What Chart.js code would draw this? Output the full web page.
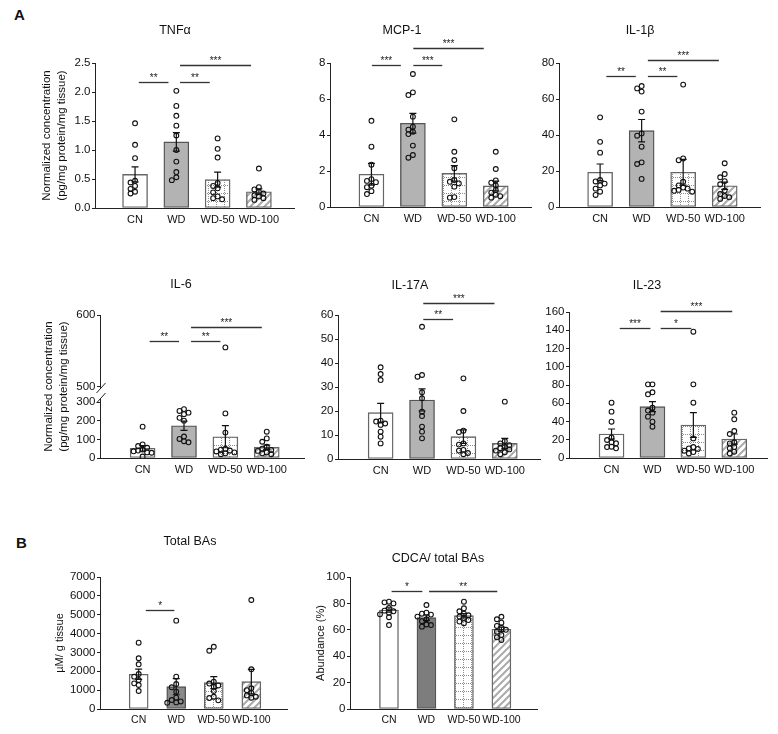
<!DOCTYPE html>
<html>
<head>
<meta charset="utf-8">
<script src="https://cdn.jsdelivr.net/npm/chart.js@4.4.0/dist/chart.umd.min.js"></script>
<style>
body { margin: 0; background: #fff; width: 778px; height: 734px; position: relative; overflow: hidden; font-family: 'Liberation Sans', Arial, sans-serif; color: #111; }
canvas { position: absolute; }
.t { position: absolute; font-size: 12.5px; transform: translate(-50%, -50%); white-space: nowrap; }
.p { position: absolute; font-weight: bold; font-size: 15px; }
</style>
</head>
<body>
<div class="p" style="left:14px;top:6px">A</div>
<div class="p" style="left:16px;top:534px">B</div>
<script>
const groups = ['CN', 'WD', 'WD-50', 'WD-100']

// TNFα
const tnfMean = [0.58, 1.14, 0.49, 0.28]
const tnfSem = [0.13, 0.16, 0.13, 0.05]
const tnfPoints = [
    [1.46, 1.09, 0.86, 0.47, 0.44, 0.38, 0.33, 0.28, 0.25],
    [2.02, 1.76, 1.59, 1.42, 1.25, 1.0, 0.80, 0.62, 0.53, 0.48],
    [1.20, 1.02, 0.87, 0.43, 0.38, 0.34, 0.27, 0.20, 0.17, 0.15],
    [0.68, 0.36, 0.32, 0.28, 0.25, 0.22, 0.20, 0.17, 0.14]
]
const tnfSig = [[0, 1, 2.18, '**'], [1, 2, 2.18, '**'], [1, 3, 2.47, '***']]

// MCP-1
const mcpMean = [1.82, 4.65, 1.87, 1.17]
const mcpSem = [0.6, 0.55, 0.43, 0.27]
const mcpPoints = [
    [4.79, 3.35, 2.35, 1.55, 1.45, 1.38, 1.18, 1.1, 0.88, 0.72],
    [7.39, 6.37, 6.22, 5.02, 4.46, 4.3, 4.18, 4.05, 3.41, 2.89, 2.74],
    [4.87, 3.07, 2.61, 2.15, 1.5, 1.4, 1.31, 1.13, 0.55, 0.52],
    [3.07, 2.11, 1.48, 1.35, 1.2, 0.95, 0.8, 0.68, 0.6, 0.52]
]
const mcpSig = [[0, 1, 7.89, '***'], [1, 2, 7.89, '***'], [1, 3, 8.85, '***']]

// IL-1β
const il1Mean = [19.3, 42.4, 19.3, 11.8]
const il1Sem = [4.6, 6.2, 7.2, 2.0]
const il1Points = [
    [49.8, 36.2, 30.2, 15, 14.2, 13, 12, 10.2, 8.5, 6.7],
    [67.2, 65.9, 64.1, 53, 40.9, 39.6, 33.5, 24.8, 23.9, 15.6],
    [68, 27, 26, 14, 12, 10.8, 10.2, 9.5, 9, 8.5],
    [24.3, 18.3, 16.5, 14.4, 12.6, 9.1, 7.2, 6.1, 5.4, 4.5]
]
const il1Sig = [[0, 1, 72.8, '**'], [1, 2, 72.8, '**'], [1, 3, 81.5, '***']]

// IL-6 (broken axis)
const il6Mean = [52, 173, 114, 57]
const il6Sem = [15, 25, 59, 12]
const il6Points = [
    [168, 73, 64, 55, 45, 40, 36, 30, 28, 8],
    [262, 252, 243, 235, 215, 200, 115, 102, 90, 84],
    [555, 239, 136, 50, 45, 40, 35, 30, 25, 20],
    [141, 105, 87, 60, 50, 43, 38, 30, 25, 20]
]
const il6Sig = [[0, 1, 564, '**'], [1, 2, 564, '**'], [1, 3, 584, '***']]
const il6Ticks = [0, 100, 200, 300, 500, 600]

// IL-17A
const il17Mean = [19.3, 24.6, 9.3, 6.5]
const il17Sem = [3.9, 4.6, 2.8, 2.1]
const il17Points = [
    [38.2, 35.4, 32.9, 16, 15.6, 14.8, 14.2, 11.4, 9.3, 6.5],
    [55.1, 35, 34.3, 27.8, 25.3, 19.7, 17.9, 13.5, 11.4, 8.6],
    [33.6, 20, 11.8, 11.2, 6.5, 6, 3.8, 3.5, 2.5, 2],
    [23.9, 7.5, 6.5, 5.8, 5, 4.5, 4, 3.5, 2.8, 2]
]
const il17Sig = [[1, 2, 58.2, '**'], [1, 3, 65.1, '***']]

// IL-23
const il23Mean = [26.3, 56.3, 36.2, 20.8]
const il23Sem = [5.5, 5.5, 13.5, 5.5]
const il23Points = [
    [60.6, 50.8, 39.8, 22.6, 19.7, 17.2, 16.1, 12.4, 12, 10.6],
    [80.7, 80.7, 72, 69.8, 55.1, 52, 49.7, 45.3, 39.8, 34.3],
    [138.4, 80.7, 60.6, 21.5, 12, 10.6, 10, 8, 6.5, 5],
    [49.7, 42.4, 29.6, 26.3, 17.2, 16, 12, 10.6, 6.9, 5]
]
const il23Sig = [[0, 1, 142, '***'], [1, 2, 142, '*'], [1, 3, 161, '***']]

// Total BAs
const baMean = [1840, 1185, 1397, 1450]
const baSem = [270, 430, 320, 650]
const baPoints = [
    [3515, 2690, 2370, 1856, 1715, 1538, 1361, 1273, 955],
    [4684, 1715, 1326, 1150, 919, 601, 477, 400, 350, 330],
    [3300, 3090, 1450, 1350, 1250, 1180, 950, 650, 580, 460],
    [5780, 2105, 1100, 1000, 850, 720, 650, 600]
]
const baSig = [[0, 1, 5250, '*']]

// CDCA / total BAs
const cdcaMean = [75, 69.2, 70.7, 60.4]
const cdcaSem = [1.7, 2.0, 1.6, 1.7]
const cdcaPoints = [
    [81.3, 80.8, 80, 76.5, 74.5, 74, 73, 71.7, 69.5, 63.6],
    [78.8, 73, 72.2, 71.5, 70, 68, 66.5, 64, 63.6, 62.4],
    [81.3, 76.3, 74, 72.2, 71, 70, 69, 67.4, 66.2, 65],
    [69.9, 68, 65.4, 62.9, 61.5, 60, 58.6, 56.1, 54.3, 52.3]
]
const cdcaSig = [[0, 1, 89.6, '*'], [1, 3, 89.6, '**']]

const normTitle = ['Normalized concentration', '(pg/mg protein/mg tissue)']

const panels = [
    { mean: tnfMean, sem: tnfSem, pts: tnfPoints, sig: tnfSig, title: 'TNFα', tx: 175, ty: 30,
      axisX: 95, top: 63, bottom: 208, ymax: 2.5, step: 0.5, dec: 1, unit: 41.3, xMin: -0.97, xMax: 3.85,
      bar: 25, wd: '#b3b3b3', yTitle: normTitle, yPad: 34.5, inset: [0.09, 0.19] },
    { mean: mcpMean, sem: mcpSem, pts: mcpPoints, sig: mcpSig, title: 'MCP-1', tx: 402, ty: 30,
      axisX: 330, top: 63, bottom: 207, ymax: 8, step: 2, dec: 0, unit: 41.5, xMin: -1.0, xMax: 3.85,
      bar: 25, wd: '#b3b3b3', inset: [0.01, 0.29] },
    { mean: il1Mean, sem: il1Sem, pts: il1Points, sig: il1Sig, title: 'IL-1β', tx: 640, ty: 30,
      axisX: 559, top: 63, bottom: 207, ymax: 80, step: 20, dec: 0, unit: 41.5, xMin: -0.99, xMax: 3.85,
      bar: 25, wd: '#b3b3b3', inset: [0.15, 0.14] },
    { mean: il6Mean, sem: il6Sem, pts: il6Points, sig: il6Sig, title: 'IL-6', tx: 181, ty: 284,
      axisX: 100, top: 315, bottom: 458, ymax: 600, brk: [300, 500, 80.4, 3.857], ticks: il6Ticks,
      unit: 41.3, xMin: -1.03, xMax: 3.9, bar: 25, wd: '#b3b3b3', yTitle: normTitle, yPad: 31.5, inset: [0.17, 0.12] },
    { mean: il17Mean, sem: il17Sem, pts: il17Points, sig: il17Sig, title: 'IL-17A', tx: 410, ty: 285,
      axisX: 338, top: 315, bottom: 459, ymax: 60, step: 10, dec: 0, unit: 41.3, xMin: -1.03, xMax: 3.85,
      bar: 25, wd: '#b3b3b3', inset: [0.03, 0.25] },
    { mean: il23Mean, sem: il23Sem, pts: il23Points, sig: il23Sig, title: 'IL-23', tx: 647, ty: 285,
      axisX: 569, top: 312, bottom: 458, ymax: 160, step: 20, dec: 0, unit: 41, xMin: -1.04, xMax: 3.8,
      bar: 25, wd: '#b3b3b3', inset: [0.2, 0.05] },
    { mean: baMean, sem: baSem, pts: baPoints, sig: baSig, title: 'Total BAs', tx: 190, ty: 541,
      axisX: 100, top: 577, bottom: 709, ymax: 7000, step: 1000, dec: 0, unit: 37.5, xMin: -1.03, xMax: 3.95,
      bar: 19, wd: '#8a8a8a', yTitle: 'µM/ g tissue', yPad: 42.9, inset: [0.19, 0.05], xFont: 10.5 },
    { mean: cdcaMean, sem: cdcaSem, pts: cdcaPoints, sig: cdcaSig, title: 'CDCA/ total BAs', tx: 438, ty: 558,
      axisX: 350, top: 577, bottom: 709, ymax: 100, step: 20, dec: 0, unit: 37.5, xMin: -1.04, xMax: 3.95,
      bar: 19, wd: '#7d7d7d', yTitle: 'Abundance (%)', yPad: 53.9, inset: [0.07, 0.11], xFont: 10.5 }
]

Chart.defaults.font.family = "'Liberation Sans', Arial, sans-serif"
Chart.defaults.color = '#111'

function dotGrid() {
    const c = document.createElement('canvas')
    c.width = 8
    c.height = 8
    const g = c.getContext('2d')
    g.fillStyle = '#fff'
    g.fillRect(0, 0, 8, 8)
    g.fillStyle = '#8c8c8c'
    for (let i = 0; i < 8; i += 2) {
        g.fillRect(i, 7, 1, 1)
        g.fillRect(3, i, 1, 1)
    }
    return g.createPattern(c, 'repeat')
}

function hatch() {
    const s = 7
    const c = document.createElement('canvas')
    c.width = s
    c.height = s
    const g = c.getContext('2d')
    g.fillStyle = '#fff'
    g.fillRect(0, 0, s, s)
    g.strokeStyle = '#ababab'
    g.lineWidth = 2
    g.beginPath()
    g.moveTo(0, s); g.lineTo(s, 0)
    g.moveTo(-1, 1); g.lineTo(1, -1)
    g.moveTo(s - 1, s + 1); g.lineTo(s + 1, s - 1)
    g.stroke()
    return g.createPattern(c, 'repeat')
}

// little beeswarm so overlapping circles sit side by side
function dodge(values, pxY, pxX) {
    const placed = []
    const order = values.map((v, i) => i).sort((a, b) => values[b] - values[a])
    const out = []
    for (const i of order) {
        const v = values[i]
        let dx = 0
        for (const o of [0, -1, 1, -2, 2, -3, 3]) {
            const d = o * 4.5 / pxX
            const free = placed.every(p => Math.hypot((p.dx - d) * pxX, (p.v - v) * pxY) >= 4.2)
            if (free) { dx = d; break }
        }
        placed.push({ dx: dx, v: v })
        out[i] = dx
    }
    return out
}

function drawPanel(p) {
    const W = 90, PT = 45, PR = 12, H = 32
    const tf = p.brk
        ? (v => v <= p.brk[0] ? v : p.brk[0] + p.brk[2] + (v - p.brk[1]) * p.brk[3])
        : (v => v)
    const yTop = tf(p.ymax)
    const plotW = (p.xMax - p.xMin) * p.unit
    const plotH = p.bottom - p.top

    const cv = document.createElement('canvas')
    cv.width = Math.round(W + plotW + PR)
    cv.height = PT + plotH + H
    cv.style.left = (p.axisX - W) + 'px'
    cv.style.top = (p.top - PT) + 'px'
    document.body.appendChild(cv)

    const t = document.createElement('div')
    t.className = 't'
    t.style.left = p.tx + 'px'
    t.style.top = p.ty + 'px'
    t.textContent = p.title
    document.body.appendChild(t)

    const scatter = []
    p.pts.forEach((vals, gi) => {
        const dxs = dodge(vals.map(tf), plotH / yTop, p.unit)
        vals.forEach((v, k) => scatter.push({ x: gi + dxs[k], y: tf(v) }))
    })

    const marks = {
        id: 'marks',
        afterDatasetsDraw(chart) {
            const { ctx, scales: { x, y }, chartArea } = chart
            ctx.save()
            // error bars
            ctx.strokeStyle = '#111'
            ctx.lineWidth = 1.2
            p.mean.forEach((m, i) => {
                const cx = x.getPixelForValue(i)
                const y1 = y.getPixelForValue(tf(m + p.sem[i]))
                const y2 = y.getPixelForValue(tf(Math.max(0, m - p.sem[i])))
                ctx.beginPath()
                ctx.moveTo(cx, y1); ctx.lineTo(cx, y2)
                ctx.moveTo(cx - 3.5, y1); ctx.lineTo(cx + 3.5, y1)
                ctx.moveTo(cx - 3.5, y2); ctx.lineTo(cx + 3.5, y2)
                ctx.stroke()
            })
            // significance lines
            ctx.strokeStyle = '#333'
            ctx.lineWidth = 1.3
            ctx.fillStyle = '#222'
            ctx.font = "10px 'Liberation Sans', Arial, sans-serif"
            ctx.textAlign = 'center'
            ctx.textBaseline = 'alphabetic'
            p.sig.forEach(s => {
                const xa = x.getPixelForValue(s[0] + p.inset[0])
                const xb = x.getPixelForValue(s[1] - p.inset[1])
                const yy = Math.round(y.getPixelForValue(tf(s[2]))) + 0.5
                ctx.beginPath()
                ctx.moveTo(xa, yy); ctx.lineTo(xb, yy)
                ctx.stroke()
                ctx.fillText(s[3], (xa + xb) / 2, yy - 2)
            })
            // broken y axis
            if (p.brk) {
                const ax = chartArea.left + 0.5
                const y0 = y.getPixelForValue(0)
                const yLo = y.getPixelForValue(tf(p.brk[0]))
                const yHi = y.getPixelForValue(tf(p.brk[1]))
                const yMax = y.getPixelForValue(yTop)
                ctx.strokeStyle = '#222'
                ctx.lineWidth = 1
                ctx.beginPath()
                ctx.moveTo(ax, y0); ctx.lineTo(ax, yLo - 4)
                ctx.moveTo(ax, yHi + 2); ctx.lineTo(ax, yMax)
                ctx.moveTo(ax - 4, yHi + 6); ctx.lineTo(ax + 5, yHi - 4)
                ctx.moveTo(ax - 4, yLo + 1); ctx.lineTo(ax + 5, yLo - 9)
                ctx.stroke()
            }
            ctx.restore()
        }
    }

    new Chart(cv, {
        type: 'bar',
        data: {
            datasets: [
                {
                    type: 'scatter',
                    data: scatter,
                    pointRadius: 2.4,
                    pointBorderWidth: 1.1,
                    borderColor: '#111',
                    backgroundColor: 'rgba(0,0,0,0)',
                    order: 1
                },
                {
                    type: 'bar',
                    data: p.mean.map((m, i) => ({ x: i, y: tf(m) })),
                    backgroundColor: ['#ffffff', p.wd, dotGrid(), hatch()],
                    borderColor: ['#666', '#555', '#666', '#666'],
                    borderWidth: 1.4,
                    borderSkipped: false,
                    barThickness: p.bar,
                    order: 2
                }
            ]
        },
        options: {
            responsive: false,
            animation: false,
            devicePixelRatio: 1,
            layout: { padding: { top: PT, right: PR, left: 0, bottom: 0 } },
            plugins: { legend: { display: false }, tooltip: { enabled: false } },
            scales: {
                x: {
                    type: 'linear',
                    offset: false,
                    min: p.xMin,
                    max: p.xMax,
                    afterBuildTicks: s => { s.ticks = groups.map((g, i) => ({ value: i })) },
                    afterFit: s => { s.height = H; s.paddingLeft = 0; s.paddingRight = 0 },
                    grid: { display: true, offset: false, drawOnChartArea: false, drawTicks: false },
                    border: { display: true, color: '#222', width: 1 },
                    ticks: {
                        autoSkip: false, maxRotation: 0, padding: 5,
                        font: { size: p.xFont || 11 }, color: '#111',
                        callback: v => groups[v]
                    }
                },
                y: {
                    type: 'linear',
                    min: 0,
                    max: yTop,
                    afterBuildTicks: p.ticks ? (s => { s.ticks = p.ticks.map(v => ({ value: tf(v) })) }) : undefined,
                    afterFit: s => { s.width = W; s.paddingTop = 0; s.paddingBottom = 0 },
                    grid: { display: true, drawOnChartArea: false, drawTicks: true, tickLength: 3, color: '#222' },
                    border: { display: !p.brk, color: '#222', width: 1 },
                    title: {
                        display: !!p.yTitle,
                        text: p.yTitle || '',
                        padding: { top: p.yPad || 0, bottom: 0 },
                        font: { size: p.yTitle === normTitle ? 11.5 : 11, lineHeight: 1.3 },
                        color: '#111'
                    },
                    ticks: {
                        stepSize: p.step,
                        padding: 1.5,
                        font: { size: 11.5 },
                        color: '#111',
                        callback: p.ticks ? ((v, i) => p.ticks[i]) : (v => v.toFixed(p.dec))
                    }
                }
            }
        },
        plugins: [marks]
    })
}

panels.forEach(drawPanel)
</script>
</body>
</html>
